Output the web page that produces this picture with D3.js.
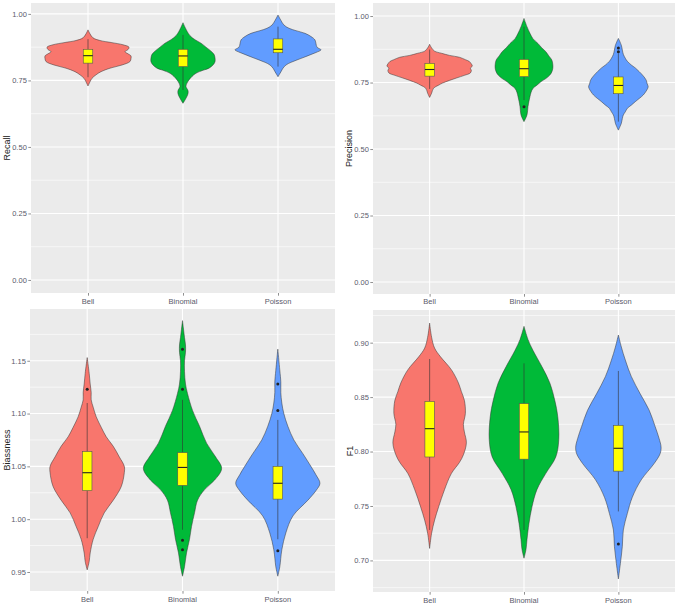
<!DOCTYPE html>
<html><head><meta charset="utf-8">
<script src="https://cdn.jsdelivr.net/npm/d3@7"></script>
<style>html,body{margin:0;padding:0;background:#fff;}svg{display:block;}</style>
</head><body>
<svg id="chart" width="680" height="603"></svg>
<script>
// ---------------- DATA ----------------
const categories = ["Bell", "Binomial", "Poisson"];
const fillColors = ["#F8766D", "#00BA38", "#619CFF"];

const recallTicks = [0, 0.25, 0.5, 0.75, 1.0];
const precisionTicks = [0, 0.25, 0.5, 0.75, 1.0];
const biasTicks = [0.95, 1.00, 1.05, 1.10, 1.15];
const f1Ticks = [0.70, 0.75, 0.80, 0.85, 0.90];

// violin profiles: [value, density]
const recallBell = [[0.729,0],[0.745,2],[0.758,4],[0.771,8],[0.783,13],[0.796,22],[0.808,34],[0.821,42],[0.832,43],[0.842,43],[0.850,40],[0.858,37],[0.866,40],[0.875,41],[0.884,35],[0.892,24],[0.900,12],[0.910,5],[0.925,2],[0.940,0]];
const recallBinomial = [[0.664,0],[0.683,3],[0.700,5],[0.712,5],[0.727,3],[0.740,4],[0.752,6],[0.765,9],[0.777,13],[0.788,20],[0.796,26],[0.808,30],[0.820,32],[0.835,32],[0.848,31],[0.860,28],[0.875,23],[0.890,18],[0.903,12],[0.918,7],[0.935,4],[0.950,2],[0.967,0]];
const recallPoisson = [[0.764,0],[0.783,3],[0.796,5],[0.808,8],[0.818,13],[0.827,19],[0.837,26],[0.846,32],[0.855,38],[0.865,43],[0.875,39],[0.888,38],[0.902,37],[0.915,33],[0.927,27],[0.937,18],[0.946,11],[0.958,6],[0.975,3],[0.996,0]];

const precisionBell = [[0.694,0],[0.710,2],[0.729,4],[0.740,9],[0.748,13],[0.758,20],[0.767,27],[0.777,35],[0.786,41],[0.796,42],[0.804,41],[0.812,43],[0.820,42],[0.829,40],[0.836,36],[0.845,30],[0.852,20],[0.860,12],[0.868,5],[0.880,2],[0.894,0]];
const precisionBinomial = [[0.603,0],[0.628,3],[0.659,4],[0.680,5],[0.697,6],[0.712,7],[0.728,9],[0.740,13],[0.753,17],[0.765,22],[0.778,26],[0.790,28],[0.803,29],[0.818,29],[0.835,28],[0.850,25],[0.866,22],[0.880,18],[0.897,14],[0.915,9],[0.935,6],[0.960,3],[0.991,0]];
const precisionPoisson = [[0.571,0],[0.597,3],[0.615,4],[0.628,5],[0.640,7],[0.653,9],[0.665,13],[0.678,17],[0.690,21],[0.703,25],[0.718,28],[0.734,30],[0.745,29],[0.759,28],[0.775,25],[0.791,21],[0.805,17],[0.816,13],[0.830,9],[0.841,7],[0.856,5],[0.872,4],[0.890,3],[0.916,0]];

const biasBell = [[0.952,0],[0.960,2],[0.968,3],[0.981,6],[0.993,11],[1.006,17],[1.018,26],[1.031,34],[1.044,37],[1.050,37],[1.059,32],[1.069,26],[1.078,19],[1.087,14],[1.097,9],[1.106,6],[1.113,4],[1.120,4],[1.128,3],[1.138,2],[1.153,0]];
const biasBinomial = [[0.946,0],[0.955,2],[0.968,4],[0.981,7],[0.993,9],[1.006,12],[1.018,15],[1.028,22],[1.037,32],[1.048,39],[1.059,33],[1.072,24],[1.088,17],[1.103,10],[1.119,5],[1.128,3],[1.140,2],[1.150,2],[1.158,3],[1.165,3],[1.172,2],[1.180,1],[1.188,0]];
const biasPoisson = [[0.946,0],[0.955,2],[0.971,4],[0.987,8],[1.003,15],[1.018,30],[1.027,38],[1.034,42],[1.042,38],[1.050,33],[1.062,25],[1.075,16],[1.088,10],[1.100,6],[1.110,4],[1.120,3],[1.130,3],[1.141,2],[1.161,0]];

const f1Bell = [[0.711,0],[0.725,2],[0.737,5],[0.749,9],[0.765,15],[0.780,22],[0.790,30],[0.797,34],[0.808,37],[0.818,35],[0.825,34],[0.835,36],[0.847,35],[0.855,32],[0.863,29],[0.875,22],[0.887,11],[0.895,5],[0.905,2],[0.918,0]];
const f1Binomial = [[0.702,0],[0.710,2],[0.719,3],[0.734,5],[0.749,8],[0.765,13],[0.780,22],[0.795,32],[0.811,35],[0.832,34],[0.847,31],[0.863,26],[0.878,18],[0.893,9],[0.903,4],[0.915,0]];
const f1Poisson = [[0.683,0],[0.697,2],[0.713,4],[0.728,5],[0.743,9],[0.758,14],[0.774,23],[0.789,36],[0.798,42],[0.804,43],[0.812,41],[0.823,37],[0.838,31],[0.853,22],[0.869,13],[0.884,7],[0.896,3],[0.907,0]];

// box stats: [lower whisker, q1, median, q3, upper whisker]
const recallBoxes = [[0.762,0.815,0.843,0.867,0.905],[0.714,0.802,0.842,0.867,0.921],[0.802,0.854,0.867,0.906,0.952]];
const precisionBoxes = [[0.726,0.774,0.799,0.822,0.874],[0.684,0.772,0.802,0.837,0.960],[0.603,0.708,0.739,0.771,0.860]];
const biasBoxes = [[0.982,1.027,1.044,1.064,1.110],[0.990,1.032,1.049,1.063,1.113],[0.981,1.019,1.034,1.050,1.094]];
const f1Boxes = [[0.728,0.795,0.821,0.846,0.885],[0.728,0.793,0.818,0.844,0.881],[0.745,0.782,0.803,0.824,0.874]];

const recallOutliers = [[],[],[]];
const precisionOutliers = [[],[0.659],[0.866,0.880]];
const biasOutliers = [[1.123],[0.971,0.980,1.123,1.161],[0.970,1.103,1.128]];
const f1Outliers = [[],[],[0.715]];

// ---------------- LAYOUT ----------------
const panels = [
  {title:"Recall", violins:[recallBell,recallBinomial,recallPoisson], boxes:recallBoxes, outliers:recallOutliers, ticks:recallTicks,
   x0:31, x1:335, y0:3, y1:293, dom:[-0.049,1.041], titleX:7, labelY:301},
  {title:"Precision", violins:[precisionBell,precisionBinomial,precisionPoisson], boxes:precisionBoxes, outliers:precisionOutliers, ticks:precisionTicks,
   x0:373, x1:675, y0:3, y1:294, dom:[-0.045,1.049], titleX:349, labelY:301},
  {title:"Biassness", violins:[biasBell,biasBinomial,biasPoisson], boxes:biasBoxes, outliers:biasOutliers, ticks:biasTicks,
   x0:30, x1:335, y0:309, y1:591, dom:[0.932,1.199], titleX:7, labelY:599},
  {title:"F1", violins:[f1Bell,f1Binomial,f1Poisson], boxes:f1Boxes, outliers:f1Outliers, ticks:f1Ticks,
   x0:373, x1:675, y0:310, y1:592, dom:[0.671,0.930], titleX:350, labelY:600}
];

const svg = d3.select("#chart");
svg.append("rect").attr("width",680).attr("height",603).attr("fill","#fff");
const font = "'Liberation Sans', Arial, sans-serif";
const fmt = d3.format(".2f");

panels.forEach(p => {
  const g = svg.append("g");
  const x = d3.scalePoint().domain(categories).range([p.x0, p.x1]).padding(0.6);
  const y = d3.scaleLinear().domain(p.dom).range([p.y1, p.y0]);
  const step = x.step();
  const w = d3.scaleLinear().domain([0, 95]).range([0, step]);
  const boxHalf = step * 0.05;

  // background
  g.append("rect").attr("x", p.x0).attr("y", p.y0).attr("width", p.x1 - p.x0).attr("height", p.y1 - p.y0).attr("fill", "#EBEBEB");

  // minor grid
  const st = p.ticks[1] - p.ticks[0];
  const minor = [];
  for (let t = p.ticks[0] - st / 2; t <= p.dom[1]; t += st) if (t >= p.dom[0]) minor.push(t);
  g.selectAll(".minor").data(minor).enter().append("line")
    .attr("x1", p.x0).attr("x2", p.x1).attr("y1", d => y(d)).attr("y2", d => y(d))
    .attr("stroke", "#fff").attr("stroke-width", 0.6);
  // major grid
  g.selectAll(".major").data(p.ticks).enter().append("line")
    .attr("x1", p.x0).attr("x2", p.x1).attr("y1", d => y(d)).attr("y2", d => y(d))
    .attr("stroke", "#fff").attr("stroke-width", 1.1);
  g.selectAll(".vmajor").data(categories).enter().append("line")
    .attr("x1", d => x(d)).attr("x2", d => x(d)).attr("y1", p.y0).attr("y2", p.y1)
    .attr("stroke", "#fff").attr("stroke-width", 1.1);

  // violins
  categories.forEach((c, i) => {
    const cx = x(c);
    const area = d3.area().curve(d3.curveCatmullRom.alpha(0.5))
      .y(d => y(d[0])).x0(d => cx - w(d[1])).x1(d => cx + w(d[1]));
    g.append("path").attr("d", area(p.violins[i]))
      .attr("fill", fillColors[i]).attr("stroke", "#333").attr("stroke-width", 0.5);
  });

  // boxplots
  categories.forEach((c, i) => {
    const cx = x(c);
    const b = p.boxes[i];
    g.append("line").attr("x1", cx).attr("x2", cx).attr("y1", y(b[0])).attr("y2", y(b[1]))
      .attr("stroke", "#333").attr("stroke-width", 0.6);
    g.append("line").attr("x1", cx).attr("x2", cx).attr("y1", y(b[3])).attr("y2", y(b[4]))
      .attr("stroke", "#333").attr("stroke-width", 0.6);
    g.append("rect").attr("x", cx - boxHalf).attr("width", boxHalf * 2)
      .attr("y", y(b[3])).attr("height", y(b[1]) - y(b[3]))
      .attr("fill", "#FFFF00").attr("stroke", "#555").attr("stroke-width", 0.6);
    g.append("line").attr("x1", cx - boxHalf).attr("x2", cx + boxHalf).attr("y1", y(b[2])).attr("y2", y(b[2]))
      .attr("stroke", "#222").attr("stroke-width", 1.1);
    g.selectAll(null).data(p.outliers[i]).enter().append("circle")
      .attr("cx", cx).attr("cy", d => y(d)).attr("r", 1.5).attr("fill", "#222");
  });

  // y axis
  const ya = g.append("g").attr("transform", `translate(${p.x0},0)`)
    .call(d3.axisLeft(y).tickValues(p.ticks).tickFormat(fmt).tickSize(2.7).tickPadding(1.5));
  ya.select(".domain").remove();
  ya.selectAll("line").attr("stroke", "#444").attr("stroke-width", 0.6);
  ya.selectAll("text").attr("fill", "#5a5a6a").style("font-family", font).style("font-size", "7.5px");

  // x axis
  const xa = g.append("g").attr("transform", `translate(0,${p.y1})`)
    .call(d3.axisBottom(x).tickSize(2.7).tickPadding(1));
  xa.select(".domain").remove();
  xa.selectAll("line").attr("stroke", "#444").attr("stroke-width", 0.6);
  xa.selectAll("text").remove();
  g.selectAll(".xl").data(categories).enter().append("text")
    .attr("x", d => x(d)).attr("y", p.labelY).attr("text-anchor", "middle").attr("dominant-baseline", "central")
    .attr("fill", "#5a5a6a").style("font-family", font).style("font-size", "7.5px").text(d => d);

  // title
  g.append("text").attr("transform", `translate(${p.titleX},${(p.y0 + p.y1) / 2}) rotate(-90)`)
    .attr("text-anchor", "middle").attr("dominant-baseline", "central")
    .attr("fill", "#222").style("font-family", font).style("font-size", "9px").text(p.title);
});
</script>
</body></html>
